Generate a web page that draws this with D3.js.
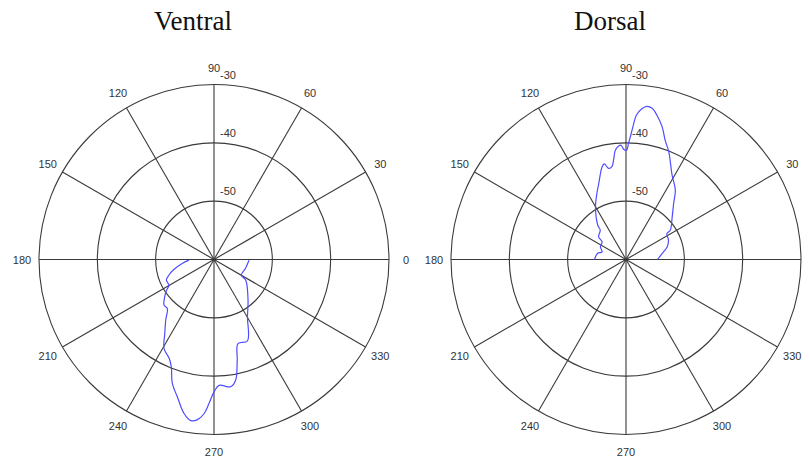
<!DOCTYPE html>
<html>
<head>
<meta charset="utf-8">
<script src="https://cdn.jsdelivr.net/npm/d3@7"></script>
<style>
  body { margin: 0; background: #fff; }
  svg { display: block; }
</style>
</head>
<body>
<div id="chart"></div>
<script>
// polar tick labels
let angleTicks = [0, 30, 60, 90, 120, 150, 180, 210, 240, 270, 300, 330];
let radialTicks = [-50, -40, -30];

// Ventral pattern (deg, dB)
let ventralAngle = [181.5, 187.2, 194.0, 199.2, 203.4, 209.7, 213.0, 217.1, 222.4, 226.4, 231.5, 236.3,
    240.7, 245.6, 248.3, 251.4, 255.1, 259.0, 261.8, 264.1, 266.3, 268.0, 270.0, 272.3, 277.5, 280.2,
    283.0, 285.9, 292.3, 300.2, 309.9, 326.9, 330.2, 344.1, 358.9];
let ventralDb = [-55.7, -54.5, -52.9, -51.8, -51.1, -51.1, -50.3, -49.4, -48.4, -48.4, -46.7, -44.8,
    -42.5, -41.4, -40.2, -37.6, -35.6, -33.1, -32.1, -32.4, -33.5, -35.3, -37.3, -38.4, -38.0, -39.0,
    -42.3, -45.0, -44.9, -48.6, -50.9, -53.5, -54.6, -54.4, -54.0];

// Dorsal pattern (deg, dB)
let dorsalAngle = [180.0, 168.0, 162.3, 153.7, 143.6, 140.3, 131.2, 129.5, 120.2, 113.7, 109.8, 104.5,
    102.8, 100.8, 98.6, 97.1, 95.6, 93.7, 92.5, 91.2, 89.8, 88.7, 88.0, 87.0, 85.9, 84.0, 82.2, 80.2,
    77.9, 74.8, 71.8, 68.4, 61.4, 54.6, 49.6, 42.8, 33.5, 32.4, 24.4, 17.2, 9.5, 0.0];
let dorsalDb = [-54.6, -55.0, -55.7, -55.1, -54.9, -53.9, -53.3, -52.4, -49.6, -47.6, -46.2, -43.6,
    -43.2, -44.1, -43.9, -42.8, -41.2, -40.5, -40.4, -41.1, -41.3, -40.0, -39.0, -37.2, -35.2, -34.0,
    -33.5, -33.7, -34.7, -36.4, -38.5, -40.1, -43.5, -45.4, -47.4, -49.2, -50.9, -51.7, -52.0, -52.6,
    -53.7, -54.6];

let width = 810, height = 462;
let radius = 175;
let gridColor = '#3a3a3a';
let lineColor = '#4d4dff';

let svg = d3.select('#chart')
    .append('svg')
    .attr('width', width)
    .attr('height', height);

// deg (0 = right, ccw) -> d3 radial angle (0 = top, cw)
let angle = d3.scaleLinear().domain([0, 360]).range([Math.PI / 2, Math.PI / 2 - 2 * Math.PI]);
let r = d3.scaleLinear().domain([-60, -30]).range([0, radius]);

function drawPolar(cx, cy, title, titleX, angs, dbs) {
    let g = svg.append('g').attr('transform', 'translate(' + cx + ',' + cy + ')');

    svg.append('text')
        .attr('x', titleX)
        .attr('y', 30)
        .attr('text-anchor', 'middle')
        .style('font-family', '"Liberation Serif", "Times New Roman", serif')
        .style('font-size', '27px')
        .style('fill', '#111')
        .text(title);

    // rings
    g.selectAll('circle.ring')
        .data(radialTicks)
        .enter().append('circle')
        .attr('class', 'ring')
        .attr('r', d => r(d))
        .style('fill', 'none')
        .style('stroke', gridColor)
        .style('stroke-width', '1.1px');

    // spokes
    g.selectAll('line.spoke')
        .data(angleTicks)
        .enter().append('line')
        .attr('class', 'spoke')
        .attr('x1', 0).attr('y1', 0)
        .attr('x2', d => radius * Math.sin(angle(d)))
        .attr('y2', d => -radius * Math.cos(angle(d)))
        .style('stroke', gridColor)
        .style('stroke-width', '1.1px');

    // angle labels (skip the ones that would fall off the page)
    g.selectAll('text.ang')
        .data(angleTicks.filter(d => cx + (radius + 17) * Math.sin(angle(d)) < width - 6))
        .enter().append('text')
        .attr('class', 'ang')
        .attr('x', d => (radius + 17) * Math.sin(angle(d)))
        .attr('y', d => -(radius + 17) * Math.cos(angle(d)))
        .attr('text-anchor', 'middle')
        .attr('dominant-baseline', 'central')
        .style('font-family', '"Liberation Sans", Arial, sans-serif')
        .style('font-size', '11px')
        .style('fill', '#333')
        .text(d => d);

    // radial labels
    g.selectAll('text.rad')
        .data(radialTicks)
        .enter().append('text')
        .attr('class', 'rad')
        .attr('x', 14)
        .attr('y', d => -r(d) - 10)
        .attr('text-anchor', 'middle')
        .attr('dominant-baseline', 'central')
        .style('font-family', '"Liberation Sans", Arial, sans-serif')
        .style('font-size', '11px')
        .style('fill', '#333')
        .text(d => d);

    let pts = angs.map((a, i) => [a, dbs[i]]);
    let line = d3.lineRadial()
        .angle(d => angle(d[0]))
        .radius(d => r(d[1]))
        .curve(d3.curveCatmullRom);

    g.append('path')
        .datum(pts)
        .attr('d', line)
        .style('fill', 'none')
        .style('stroke', lineColor)
        .style('stroke-width', '1.2px');
}

drawPolar(214, 259.5, 'Ventral', 193, ventralAngle, ventralDb);
drawPolar(626, 259.5, 'Dorsal', 610, dorsalAngle, dorsalDb);
</script>
</body>
</html>
